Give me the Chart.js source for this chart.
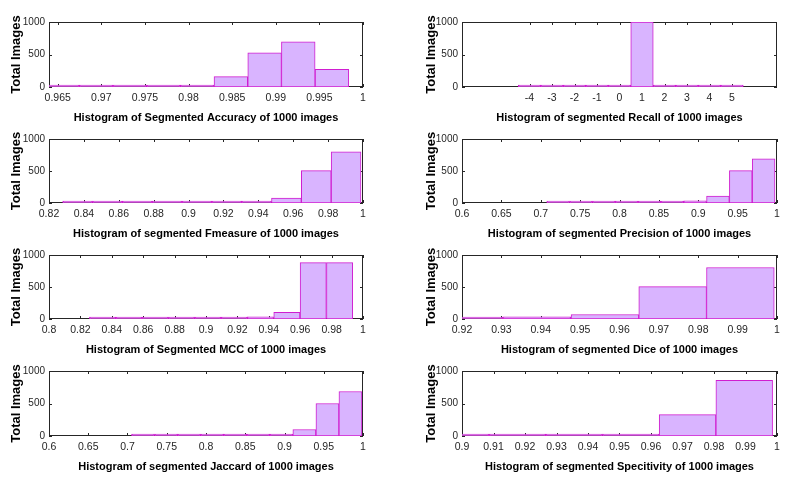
<!DOCTYPE html>
<html>
<head>
<meta charset="utf-8">
<script src="https://cdn.jsdelivr.net/npm/chart.js@4.4.1/dist/chart.umd.min.js"></script>
<style>
  html, body { margin: 0; padding: 0; background: #fff; }
  body { width: 788px; height: 486px; position: relative; overflow: hidden; }
  .panel { position: absolute; }
</style>
</head>
<body>
<script>
// Histogram bins (bin centres) and counts
const accCenters = [0.96554, 0.96940, 0.97326, 0.97713, 0.98099, 0.98485, 0.98872, 0.99258, 0.99644];
const accCounts = [0, 12, 10, 10, 30, 160, 525, 695, 270];
const accTicks = [0.965, 0.97, 0.975, 0.98, 0.985, 0.99, 0.995, 1];

const recCenters = [-4, -3, -2, -1, 0, 1, 2, 3, 4, 5];
const recCounts = [0, 0, 0, 0, 0, 1000, 0, 0, 0, 0];
const recTicks = [-4, -3, -2, -1, 0, 1, 2, 3, 4, 5];

const fmCenters = [0.8364, 0.8535, 0.8706, 0.8877, 0.9048, 0.9219, 0.9390, 0.9561, 0.9732, 0.9903];
const fmCounts = [10, 0, 0, 0, 8, 8, 25, 75, 505, 800];
const fmTicks = [0.82, 0.84, 0.86, 0.88, 0.9, 0.92, 0.94, 0.96, 0.98, 1];

const precCenters = [0.7221, 0.7511, 0.7801, 0.8091, 0.8381, 0.8670, 0.8960, 0.9250, 0.9540, 0.9830];
const precCounts = [8, 0, 0, 8, 8, 8, 35, 110, 505, 690];
const precTicks = [0.6, 0.65, 0.7, 0.75, 0.8, 0.85, 0.9, 0.95, 1];

const mccCenters = [0.8341, 0.8509, 0.8676, 0.8844, 0.9012, 0.9180, 0.9347, 0.9515, 0.9683, 0.9851];
const mccCounts = [12, 0, 0, 10, 10, 10, 35, 105, 880, 880];
const mccTicks = [0.8, 0.82, 0.84, 0.86, 0.88, 0.9, 0.92, 0.94, 0.96, 0.98, 1];

const diceCenters = [0.9218, 0.9390, 0.9563, 0.9735, 0.9907];
const diceCounts = [12, 35, 70, 505, 805];
const diceTicks = [0.92, 0.93, 0.94, 0.95, 0.96, 0.97, 0.98, 0.99, 1];

const jacCenters = [0.7198, 0.7492, 0.7785, 0.8079, 0.8372, 0.8666, 0.8960, 0.9253, 0.9547, 0.9840];
const jacCounts = [0, 0, 0, 0, 0, 0, 30, 100, 500, 685];
const jacTicks = [0.6, 0.65, 0.7, 0.75, 0.8, 0.85, 0.9, 0.95, 1];

const specCenters = [0.8996, 0.9176, 0.9356, 0.9536, 0.9716, 0.9896];
const specCounts = [0, 0, 15, 30, 330, 855];
const specTicks = [0.9, 0.91, 0.92, 0.93, 0.94, 0.95, 0.96, 0.97, 0.98, 0.99, 1];

const yTicks = [0, 500, 1000];

// layout of the 4x2 grid
const colLeft = [0, 394];
const yAxisWidth = [49, 68];
const padRight = [31, 11];
const yTitlePad = [8.5, 29.5];
const areaTop = [22, 139, 255, 371];
const areaBottom = [87, 203, 319, 436];

const faceColor = 'rgb(217, 180, 255)';
const edgeColor = 'rgb(208, 30, 208)';
const axisColor = '#262626';
const narrowFont = "'Liberation Sans Narrow', 'Arial Narrow', 'Liberation Sans', Arial, sans-serif";
const plainFont = "'Liberation Sans', Arial, sans-serif";

const panels = [
  { row: 0, col: 0, title: 'Histogram of Segmented Accuracy of 1000 images', centers: accCenters, counts: accCounts, ticks: accTicks, min: 0.964, max: 1 },
  { row: 0, col: 1, title: 'Histogram of segmented Recall of 1000 images', centers: recCenters, counts: recCounts, ticks: recTicks, min: -7, max: 7 },
  { row: 1, col: 0, title: 'Histogram of segmented Fmeasure of 1000 images', centers: fmCenters, counts: fmCounts, ticks: fmTicks, min: 0.82, max: 1 },
  { row: 1, col: 1, title: 'Histogram of segmented Precision of 1000 images', centers: precCenters, counts: precCounts, ticks: precTicks, min: 0.6, max: 1 },
  { row: 2, col: 0, title: 'Histogram of Segmented MCC of 1000 images', centers: mccCenters, counts: mccCounts, ticks: mccTicks, min: 0.8, max: 1 },
  { row: 2, col: 1, title: 'Histogram of segmented Dice of 1000 images', centers: diceCenters, counts: diceCounts, ticks: diceTicks, min: 0.92, max: 1 },
  { row: 3, col: 0, title: 'Histogram of segmented Jaccard of 1000 images', centers: jacCenters, counts: jacCounts, ticks: jacTicks, min: 0.6, max: 1 },
  { row: 3, col: 1, title: 'Histogram of segmented Specitivity of 1000 images', centers: specCenters, counts: specCounts, ticks: specTicks, min: 0.9, max: 1 }
];

// MATLAB style box with inward tick marks on all four sides
const matlabAxes = {
  id: 'matlabAxes',
  beforeDatasetsDraw(chart) {
    const { ctx, chartArea: a, scales } = chart;
    const len = 3;
    ctx.save();
    ctx.strokeStyle = axisColor;
    ctx.lineWidth = 1;
    ctx.strokeRect(a.left + 0.5, a.top + 0.5, a.right - a.left - 1, a.bottom - a.top - 1);
    ctx.beginPath();
    scales.x.ticks.forEach(t => {
      const px = Math.round(scales.x.getPixelForValue(t.value)) + 0.5;
      ctx.moveTo(px, a.bottom); ctx.lineTo(px, a.bottom - len);
      ctx.moveTo(px, a.top); ctx.lineTo(px, a.top + len);
    });
    scales.y.ticks.forEach(t => {
      const py = Math.round(scales.y.getPixelForValue(t.value)) + 0.5;
      ctx.moveTo(a.left, py); ctx.lineTo(a.left + len, py);
      ctx.moveTo(a.right, py); ctx.lineTo(a.right - len, py);
    });
    ctx.stroke();
    ctx.restore();
  }
};

panels.forEach((p, i) => {
  const h = areaBottom[p.row] - areaTop[p.row];
  const div = document.createElement('div');
  div.className = 'panel';
  div.style.left = colLeft[p.col] + 'px';
  div.style.top = (areaTop[p.row] - 10) + 'px';
  div.style.width = '394px';
  div.style.height = (h + 50) + 'px';
  const canvas = document.createElement('canvas');
  canvas.id = 'hist' + i;
  div.appendChild(canvas);
  document.body.appendChild(div);

  new Chart(canvas, {
    type: 'bar',
    data: {
      datasets: [{
        data: p.centers.map((c, k) => ({ x: c, y: p.counts[k] })),
        xAxisID: 'xb',
        yAxisID: 'y',
        backgroundColor: faceColor,
        borderColor: edgeColor,
        borderWidth: 1,
        borderSkipped: false,
        minBarLength: 2,
        categoryPercentage: 1,
        barPercentage: 1,
        clip: 0
      }]
    },
    options: {
      responsive: true,
      maintainAspectRatio: false,
      animation: false,
      layout: { padding: { left: 0, right: padRight[p.col], top: 10, bottom: 0 } },
      plugins: { legend: { display: false }, tooltip: { enabled: false } },
      scales: {
        x: {
          type: 'linear',
          position: 'bottom',
          min: p.min,
          max: p.max,
          offset: false,
          afterBuildTicks: s => { s.ticks = p.ticks.map(v => ({ value: v })); },
          afterFit: s => { s.height = 40; },
          grid: { display: false, drawTicks: false },
          border: { display: false },
          ticks: {
            autoSkip: false, maxRotation: 0, padding: 5, color: axisColor,
            font: { family: narrowFont, size: 10.5 },
            callback: v => String(v)
          },
          title: {
            display: true, text: p.title, color: '#000',
            font: { family: narrowFont, size: 11, weight: 'bold' },
            padding: { top: 0, bottom: 2 }
          }
        },
        xb: {
          type: 'linear',
          display: false,
          offset: false,
          min: p.min,
          max: p.max,
          afterBuildTicks: s => { s.ticks = [{ value: s.min }, { value: s.max }]; }
        },
        y: {
          type: 'linear',
          min: 0,
          max: 1000,
          afterBuildTicks: s => { s.ticks = yTicks.map(v => ({ value: v })); },
          afterFit: s => { s.width = yAxisWidth[p.col]; },
          grid: { display: false, drawTicks: false },
          border: { display: false },
          ticks: {
            padding: 4, color: axisColor,
            font: { family: narrowFont, size: 10 },
            callback: v => String(v)
          },
          title: {
            display: true, text: 'Total Images', color: '#000',
            font: { family: plainFont, size: 13, weight: 'bold' },
            padding: { top: yTitlePad[p.col], bottom: 0 }
          }
        }
      }
    },
    plugins: [matlabAxes]
  });
});
</script>
</body>
</html>
